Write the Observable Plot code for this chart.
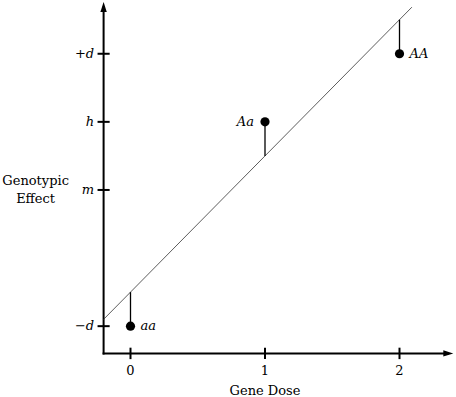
<!DOCTYPE html>
<html>
<head>
<meta charset="utf-8">
<script src="https://cdn.jsdelivr.net/npm/d3@7"></script>
<script src="https://cdn.jsdelivr.net/npm/@observablehq/plot@0.6"></script>
<style>
  html, body { margin: 0; padding: 0; background: #fff; }
</style>
</head>
<body>
<div id="chart"></div>
<script>
// ---- data ----
const doses = [0, 1, 2];                 // gene dose
const genotypes = ["aa", "Aa", "AA"];
const effects = [-1, 0.5, 1];            // genotypic effect, in units of d (m = 0)
const labelSide = ["right", "left", "right"];
const yTickValues = [-1, 0, 0.5, 1];
const yTickLabels = ["\u2212d", "m", "h", "+d"];
const xTickValues = [0, 1, 2];
const xTickLabels = ["0", "1", "2"];
const fitIntercept = -0.75;              // fitted regression line
const fitSlope = 1.0;
const fitXRange = [-0.2, 2.09];
const xDomain = [-0.2, 2.4];
const yDomain = [-1.2, 1.38];

const points = doses.map((x, i) => ({x, y: effects[i], g: genotypes[i], side: labelSide[i]}));
const fitAt = x => fitIntercept + fitSlope * x;
const fitLine = fitXRange.map(x => ({x, y: fitAt(x)}));
const residuals = points.map(p => ({x: p.x, y1: p.y, y2: fitAt(p.x)}));

const x0 = xDomain[0], y0 = yDomain[0];
const tickHalfX = 0.045, tickHalfY = 0.042;

// arrowhead symbol: tip at origin, pointing up
const arrowHead = {
  draw(context) {
    context.moveTo(0, 0);
    context.lineTo(3.2, 10);
    context.lineTo(-3.2, 10);
    context.closePath();
  }
};

const serif = "DejaVu Serif";

const chart = Plot.plot({
  width: 456,
  height: 397,
  marginLeft: 103.1,
  marginRight: 3.2,
  marginTop: 1.5,
  marginBottom: 44.1,
  x: {domain: xDomain, axis: null},
  y: {domain: yDomain, axis: null},
  style: {fontFamily: serif, background: "#fff"},
  marks: [
    // axes lines
    Plot.link([{x1: x0, y1: y0, x2: x0, y2: yDomain[1] - 0.04}], {
      x1: "x1", y1: "y1", x2: "x2", y2: "y2", stroke: "#000", strokeWidth: 2, strokeLinecap: "square"
    }),
    Plot.link([{x1: x0, y1: y0, x2: xDomain[1] - 0.04, y2: y0}], {
      x1: "x1", y1: "y1", x2: "x2", y2: "y2", stroke: "#000", strokeWidth: 2, strokeLinecap: "square"
    }),
    // arrowheads
    Plot.dot([{x: x0, y: yDomain[1]}], {x: "x", y: "y", symbol: arrowHead, fill: "#000", stroke: "none"}),
    Plot.dot([{x: xDomain[1], y: y0}], {x: "x", y: "y", symbol: arrowHead, rotate: 90, fill: "#000", stroke: "none"}),
    // y ticks
    Plot.link(yTickValues, {
      x1: () => x0 - tickHalfX, x2: () => x0 + tickHalfX, y1: d => d, y2: d => d,
      stroke: "#000", strokeWidth: 2
    }),
    Plot.text(yTickValues, {
      x: () => x0, y: d => d, text: (d, i) => yTickLabels[i],
      textAnchor: "end", dx: -9.5, fontSize: 13, fontStyle: "italic", fill: "#000"
    }),
    // x ticks
    Plot.link(xTickValues, {
      x1: d => d, x2: d => d, y1: () => y0 - tickHalfY, y2: () => y0 + tickHalfY,
      stroke: "#000", strokeWidth: 2
    }),
    Plot.text(xTickValues, {
      x: d => d, text: (d, i) => xTickLabels[i], frameAnchor: "bottom", dy: 22,
      fontSize: 13, fill: "#000"
    }),
    // axis titles
    Plot.text(["Gene Dose"], {x: () => 1, frameAnchor: "bottom", dy: 42, text: d => d, fontSize: 13, fill: "#000"}),
    Plot.text(["Genotypic\nEffect"], {
      y: () => 0, frameAnchor: "left", textAnchor: "middle", dx: -68, dy: -2, text: d => d,
      fontSize: 13, lineHeight: 1.38, fill: "#000"
    }),
    // regression line
    Plot.line(fitLine, {x: "x", y: "y", stroke: "#333", strokeWidth: 0.8}),
    // residual segments
    Plot.link(residuals, {x1: "x", x2: "x", y1: "y1", y2: "y2", stroke: "#000", strokeWidth: 1.3}),
    // points
    Plot.dot(points, {x: "x", y: "y", r: 4.6, fill: "#000", stroke: "none"}),
    Plot.text(points.filter(p => p.side === "right"), {
      x: "x", y: "y", text: "g", textAnchor: "start", dx: 10, fontSize: 13, fontStyle: "italic", fill: "#000"
    }),
    Plot.text(points.filter(p => p.side === "left"), {
      x: "x", y: "y", text: "g", textAnchor: "end", dx: -11, fontSize: 13, fontStyle: "italic", fill: "#000"
    })
  ]
});

document.getElementById("chart").appendChild(chart);
</script>
</body>
</html>
